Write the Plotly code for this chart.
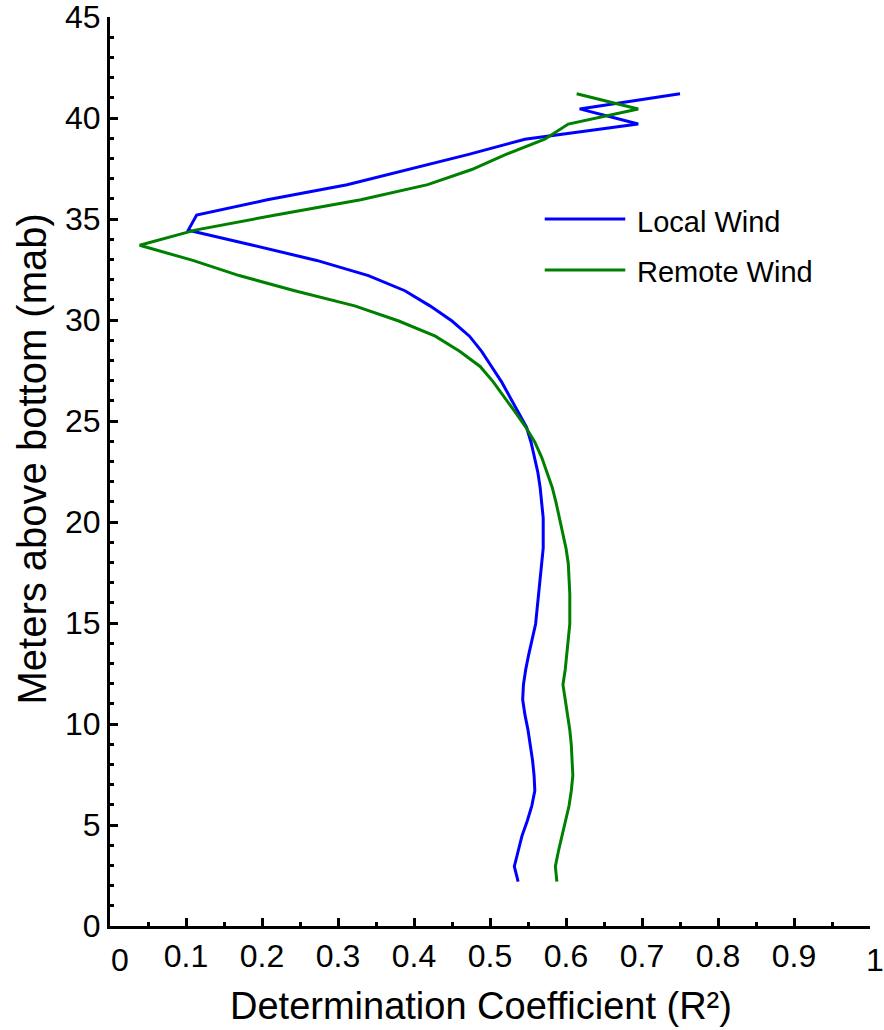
import plotly.graph_objects as go

# Depth of each sample (meters above bottom)
depth_mab = [2.2, 2.95, 3.7, 4.45, 5.2, 5.95, 6.7, 7.45, 8.2, 8.95,
             9.7, 10.45, 11.2, 11.95, 12.7, 13.45, 14.2, 14.95, 15.7, 16.45,
             17.2, 17.95, 18.7, 19.45, 20.2, 20.95, 21.7, 22.45, 23.2, 23.95,
             24.7, 25.45, 26.2, 26.95, 27.7, 28.45, 29.2, 29.95, 30.7, 31.45,
             32.2, 32.95, 33.7, 34.45, 35.2, 35.95, 36.7, 37.45, 38.2, 38.95,
             39.7, 40.45, 41.2]

# Determination coefficient (R^2) against local wind
r2_local = [0.537, 0.532, 0.537, 0.542, 0.549, 0.555, 0.559, 0.558, 0.556, 0.553,
            0.550, 0.546, 0.543, 0.544, 0.547, 0.551, 0.555, 0.560, 0.562, 0.564,
            0.566, 0.568, 0.570, 0.570, 0.570, 0.568, 0.566, 0.563, 0.559, 0.554,
            0.548, 0.537, 0.526, 0.515, 0.502, 0.489, 0.473, 0.450, 0.421, 0.388,
            0.340, 0.272, 0.188, 0.103, 0.114, 0.207, 0.312, 0.392, 0.472, 0.546,
            0.695, 0.618, 0.750]

# Determination coefficient (R^2) against remote wind
r2_remote = [0.588, 0.586, 0.590, 0.595, 0.600, 0.604, 0.607, 0.609, 0.608, 0.607,
             0.605, 0.602, 0.599, 0.596, 0.599, 0.601, 0.603, 0.605, 0.605, 0.605,
             0.604, 0.603, 0.600, 0.596, 0.592, 0.587, 0.582, 0.575, 0.568, 0.559,
             0.547, 0.533, 0.519, 0.504, 0.487, 0.460, 0.428, 0.380, 0.322, 0.243,
             0.170, 0.109, 0.039, 0.112, 0.218, 0.330, 0.418, 0.476, 0.521, 0.572,
             0.603, 0.695, 0.614]

series_names = ["Local Wind", "Remote Wind"]
series_colors = ["#0000ff", "#008000"]

x_tick_vals = [0, 0.1, 0.2, 0.3, 0.4, 0.5, 0.6, 0.7, 0.8, 0.9, 1]
x_tick_text = ["", "0.1", "0.2", "0.3", "0.4", "0.5", "0.6", "0.7", "0.8", "0.9", ""]
y_tick_vals = [0, 5, 10, 15, 20, 25, 30, 35, 40, 45]

FONT = "Liberation Sans, Arial, Helvetica, sans-serif"

fig = go.Figure()
for name, color, vals in zip(series_names, series_colors, [r2_local, r2_remote]):
    fig.add_trace(go.Scatter(x=vals, y=depth_mab, mode="lines", name=name,
                             line=dict(color=color, width=3),
                             showlegend=False))

axis_common = dict(showgrid=False, zeroline=False, showline=True,
                   linecolor="black", linewidth=3, ticks="inside",
                   ticklen=8, tickwidth=2.5, tickcolor="black",
                   ticklabeloverflow="allow", automargin=False,
                   tickfont=dict(family=FONT, size=32, color="black"))

fig.update_xaxes(range=[0, 1], tickvals=x_tick_vals, ticktext=x_tick_text,
                 minor=dict(dtick=0.05, ticks="inside", ticklen=4,
                            tickwidth=2.5, tickcolor="black"),
                 **axis_common)
fig.update_yaxes(range=[0, 45.0005], tickvals=y_tick_vals,
                 minor=dict(dtick=1, ticks="inside", ticklen=4,
                            tickwidth=2.5, tickcolor="black"),
                 **axis_common)

annotations = []
# End labels of the x axis sit slightly to the right of their ticks
for val, txt, shift in [(0, "0", 10), (1, "1", 5)]:
    annotations.append(dict(x=val, y=0, xref="x", yref="paper", text=txt,
                            showarrow=False, xanchor="center", yanchor="top",
                            xshift=shift, yshift=-14,
                            font=dict(family=FONT, size=32, color="black")))

# Axis titles
annotations.append(dict(x=0.488, y=-0.063, xref="paper", yref="paper",
                        text="Determination Coefficient (R²)", showarrow=False,
                        xanchor="center", yanchor="top",
                        font=dict(family=FONT, size=38, color="black")))
annotations.append(dict(x=-0.103, y=0.514, xref="paper", yref="paper",
                        text="Meters above bottom (mab)", showarrow=False,
                        textangle=-90, xanchor="center", yanchor="middle",
                        font=dict(family=FONT, size=40, color="black")))

# Legend drawn as line samples with labels
shapes = []
legend_rows = [(0.7778, 0.7745), (0.7217, 0.7195)]
for (line_y, text_y), name, color in zip(legend_rows, series_names, series_colors):
    shapes.append(dict(type="line", xref="paper", yref="paper",
                       x0=0.572, x1=0.678, y0=line_y, y1=line_y,
                       line=dict(color=color, width=3)))
    annotations.append(dict(x=0.691, y=text_y, xref="paper", yref="paper",
                            text=name, showarrow=False, xanchor="left",
                            yanchor="middle",
                            font=dict(family=FONT, size=29, color="black")))

fig.update_layout(width=884, height=1030,
                  margin=dict(l=110, r=14, t=17, b=104, autoexpand=False),
                  paper_bgcolor="white", plot_bgcolor="white",
                  annotations=annotations, shapes=shapes,
                  font=dict(family=FONT, color="black"))

fig.write_html("out.html")
